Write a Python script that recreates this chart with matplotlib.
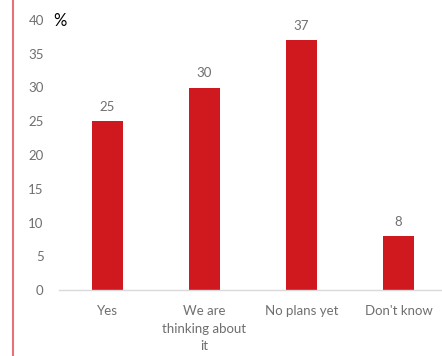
import matplotlib
matplotlib.use("Agg")
import matplotlib.pyplot as plt
from matplotlib.lines import Line2D

categories = ["Yes", "We are\nthinking about\nit", "No plans yet", "Don't know"]
values = [25, 30, 37, 8]
yticks = [0, 5, 10, 15, 20, 25, 30, 35, 40]

plt.rcParams['font.family'] = ['Lato', 'DejaVu Sans']
gray = "#6f6f6f"

fig = plt.figure(figsize=(4.42, 3.56), dpi=100)
ax = fig.add_axes([59 / 442, 1 - 290 / 356, 388 / 442, 270 / 356])

x = range(len(categories))
bars = ax.bar(x, values, width=0.31, color="#d0181f")
for b, v in zip(bars, values):
    ax.annotate(str(v), (b.get_x() + b.get_width() / 2, v), xytext=(0, 6),
                textcoords="offset points", ha="center", va="bottom",
                fontsize=9.5, color=gray)

ax.set_xlim(-0.5, 3.5)
ax.set_ylim(0, 40)
ax.set_yticks(yticks)
ax.set_xticks(list(x))
ax.set_xticklabels(categories, fontsize=9.5, color=gray, linespacing=1.55)
ax.tick_params(axis="y", length=0, pad=11, labelsize=9.5, labelcolor=gray)
ax.tick_params(axis="x", length=0, pad=11)
for s in ["top", "right", "left"]:
    ax.spines[s].set_visible(False)
ax.spines["bottom"].set_color("#d9d9d9")
ax.spines["bottom"].set_linewidth(1)

fig.text(53 / 442, 1 - 21 / 356, "%", fontsize=12, color="black",
         ha="left", va="center")

# red frame line on the left
fig.add_artist(Line2D([13 / 442, 13 / 442], [0, 1], color="#e87078", lw=1.5,
                      transform=fig.transFigure))

fig.savefig("out.png", dpi=100)
